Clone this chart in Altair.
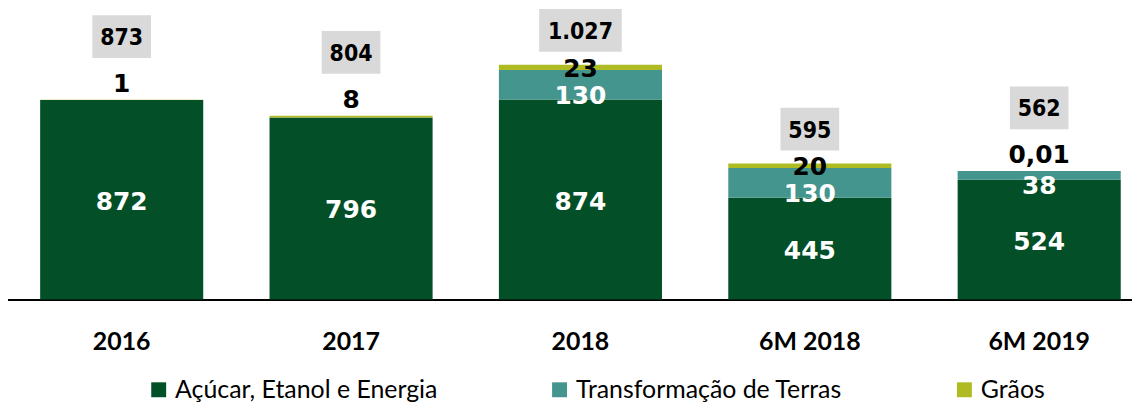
import altair as alt
import pandas as pd

periods = ["2016", "2017", "2018", "6M 2018", "6M 2019"]
series = ["Açúcar, Etanol e Energia", "Transformação de Terras", "Grãos"]
acucar = [872, 796, 874, 445, 524]
terras = [0, 0, 130, 130, 38]
graos = [1, 8, 23, 20, 0.01]
colors = ["#034F27", "#44958E", "#AFBB22"]


def fmt_br(v):
    if abs(v - round(v)) < 1e-9:
        return f"{int(round(v)):,}".replace(",", ".")
    return f"{v:.2f}".replace(".", ",")


rows = []
for i, p in enumerate(periods):
    for j, vals in enumerate([acucar, terras, graos]):
        rows.append({"period": p, "series": series[j], "ord": j,
                     "value": vals[i], "label": fmt_br(vals[i])})
long = pd.DataFrame(rows)

totals = pd.DataFrame({
    "period": periods,
    "total": [a + t + g for a, t, g in zip(acucar, terras, graos)],
    "graos": graos,
})
totals["label"] = [fmt_br(round(v)) for v in totals["total"]]
totals["nchar"] = totals["label"].str.len()

X = alt.X("period:N", sort=periods,
          scale=alt.Scale(range=[-1, 1152], paddingInner=0.289, paddingOuter=0.1445),
          axis=alt.Axis(title=None, labelAngle=0, ticks=False, domainColor="black",
                        domainWidth=2, labelFont="Lato", labelFontSize=25,
                        labelFontWeight="bold", labelColor="black", labelPadding=30,
                        grid=False))
YS = alt.Scale(domain=[0, 1270], nice=False, zero=True)

stacked = (alt.Chart(long)
           .transform_stack(stack="value", groupby=["period"], as_=["y0", "y1"],
                            sort=[alt.SortField("ord", order="ascending")])
           .transform_calculate(mid="(datum.y0 + datum.y1) / 2"))

bars = stacked.mark_bar().encode(
    x=X,
    y=alt.Y("y1:Q", scale=YS, axis=None),
    y2="y0:Q",
    color=alt.Color("series:N", scale=alt.Scale(domain=series, range=colors),
                    legend=alt.Legend(title=None, orient="none", legendX=139, legendY=370,
                                      direction="horizontal", symbolType="square",
                                      symbolSize=225, symbolStrokeWidth=0,
                                      symbolOpacity=1, labelFont="Lato",
                                      labelFontSize=25, labelColor="black",
                                      labelOffset=4, columnPadding=110, labelLimit=600)),
)

txt = dict(font="DejaVu Sans", fontSize=25, fontWeight="bold", baseline="middle", align="center")

lab_acucar = stacked.transform_filter("datum.ord == 0 && datum.value > 0").mark_text(
    color="white", dy=2, **txt).encode(x=alt.X("period:N", sort=periods), y=alt.Y("mid:Q", scale=YS), text="label:N")
lab_terras = stacked.transform_filter("datum.ord == 1 && datum.value > 0").mark_text(
    color="white", dy=11, **txt).encode(x=alt.X("period:N", sort=periods), y=alt.Y("mid:Q", scale=YS), text="label:N")
lab_gr_small = stacked.transform_filter("datum.ord == 2 && datum.value < 10").mark_text(
    color="black", dy=-16, **txt).encode(x=alt.X("period:N", sort=periods), y=alt.Y("y1:Q", scale=YS), text="label:N")
lab_gr_large = stacked.transform_filter("datum.ord == 2 && datum.value >= 10").mark_text(
    color="black", dy=4, **txt).encode(x=alt.X("period:N", sort=periods), y=alt.Y("y1:Q", scale=YS), text="label:N")

tot = alt.Chart(totals)
layers = [bars, lab_acucar, lab_terras, lab_gr_small, lab_gr_large]

for cond, off in [("datum.graos < 10", -63.5), ("datum.graos >= 10", -34.5)]:
    for n in sorted(totals["nchar"].unique()):
        w = 23 + 12 * int(n)
        layers.append(
            tot.transform_filter(f"{cond} && datum.nchar == {int(n)}")
            .mark_bar(width=w, color="#D9D9D9", yOffset=off - 21.5, y2Offset=off + 21.5)
            .encode(x=alt.X("period:N", sort=periods), y=alt.Y("total:Q", scale=YS), y2="total:Q")
        )
    layers.append(
        tot.transform_filter(cond)
        .mark_text(font="DejaVu Sans Condensed", fontSize=23, fontWeight="bold",
                   color="black", baseline="middle", align="center", dy=off + 1.5)
        .encode(x=alt.X("period:N", sort=periods), y=alt.Y("total:Q", scale=YS), text="label:N")
    )

chart = (alt.layer(*layers)
         .properties(width=1130, height=292,
                     autosize=alt.AutoSizeParams(type="none"),
                     padding={"left": 0, "top": 0, "right": 0, "bottom": 106})
         .configure_view(stroke=None))

chart.save("out.html", embed_options={"renderer": "svg", "actions": False})
